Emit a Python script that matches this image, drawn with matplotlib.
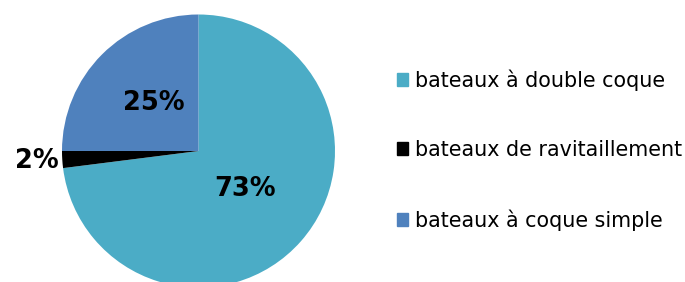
import numpy as np
import matplotlib.pyplot as plt

labels = ["bateaux à double coque", "bateaux de ravitaillement", "bateaux à coque simple"]
values = [73, 2, 25]
colors = ["#4BACC6", "#000000", "#4F81BD"]
label_dist = [0.43, 1.21, 0.49]

fig = plt.figure(figsize=(6.85, 2.82), dpi=100)
W, H = 685, 282
r = 136.5
cx, cy = 198.5, 151
ax = fig.add_axes([(cx - r) / W, (H - cy - r) / H, 2 * r / W, 2 * r / H])

wedges, _ = ax.pie(values, colors=colors, startangle=90, counterclock=False,
                   radius=1, wedgeprops=dict(linewidth=0))
ax.set_xlim(-1, 1)
ax.set_ylim(-1, 1)
ax.set_aspect("equal")
ax.axis("off")

for w, v, d in zip(wedges, values, label_dist):
    ang = np.deg2rad((w.theta1 + w.theta2) / 2)
    ax.text(d * np.cos(ang) + 0.02, d * np.sin(ang) + 0.005, f"{v}%", ha="center", va="center",
            fontsize=18.5, fontweight="bold", color="black", clip_on=False)

handles = [plt.Rectangle((0, 0), 1, 1, color=c) for c in colors]
fig.legend(handles, labels, loc="center left", bbox_to_anchor=(397 / W, 1 - 150 / H),
           frameon=False, fontsize=14.9, labelspacing=2.38, handlelength=0.55,
           handleheight=0.55, handletextpad=0.3, borderpad=0, borderaxespad=0)

fig.savefig("out.png", dpi=100)
